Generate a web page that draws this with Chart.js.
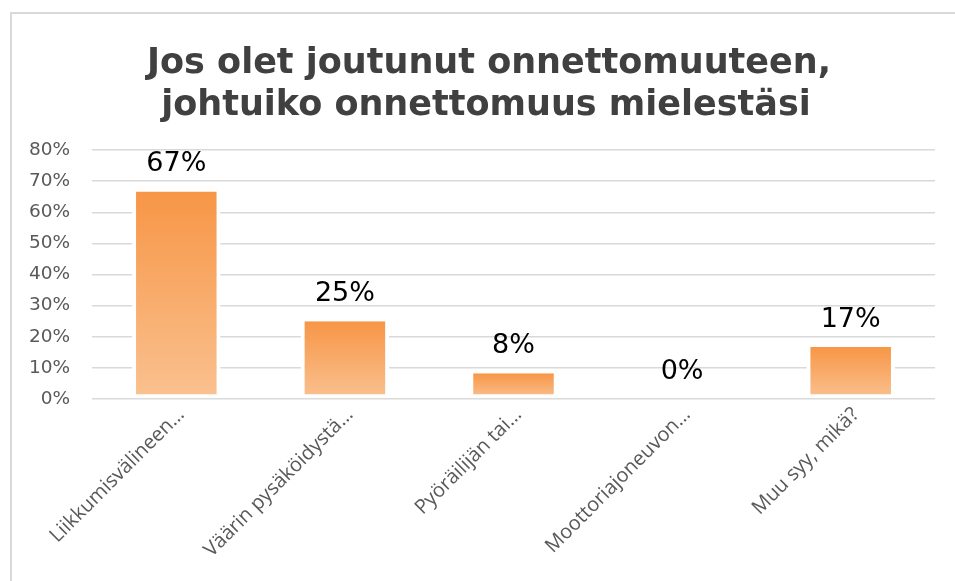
<!DOCTYPE html>
<html>
<head>
<meta charset="utf-8">
<script src="https://cdn.jsdelivr.net/npm/chart.js@4.4.1/dist/chart.umd.min.js"></script>
<style>
  body { margin: 0; background: #fff; overflow: hidden; }
  #frame { position: absolute; left: 10px; top: 12px; width: 1000px; height: 620px; border: 2px solid #d9d9d9; }
  #c { position: absolute; left: 0; top: 0; }
</style>
</head>
<body>
<div id="frame"></div>
<canvas id="c" width="955" height="581"></canvas>
<script>
// chart data
const titleLines = ['Jos olet joutunut onnettomuuteen,', 'johtuiko onnettomuus mielestäsi'];
const categories = ['Liikkumisvälineen…', 'Väärin pysäköidystä…', 'Pyöräilijän tai…', 'Moottoriajoneuvon…', 'Muu syy, mikä?'];
const values = [66.7, 25, 8.3, 0, 16.7];
const yMin = 0;
const yMax = 80;
const yStep = 10;

// gradient per bar, top dark -> bottom light
function barFill(ctx) {
  const chart = ctx.chart;
  const y = chart.scales.y;
  if (!y || ctx.parsed === undefined) return '#F79646';
  const top = y.getPixelForValue(ctx.parsed.y);
  const bottom = y.getPixelForValue(0);
  if (!isFinite(top) || !isFinite(bottom) || bottom - top < 1) return '#F79646';
  const g = chart.ctx.createLinearGradient(0, top, 0, bottom);
  g.addColorStop(0, '#F79646');
  g.addColorStop(1, '#FAC190');
  return g;
}

// value labels above bars
const valueLabels = {
  id: 'valueLabels',
  afterDatasetsDraw(chart) {
    const c = chart.ctx;
    const meta = chart.getDatasetMeta(0);
    c.save();
    c.font = '27px "DejaVu Sans"';
    c.fillStyle = '#000';
    c.textAlign = 'center';
    c.textBaseline = 'middle';
    meta.data.forEach((bar, i) => {
      c.fillText(Math.round(values[i]) + '%', bar.x, bar.y - 27);
    });
    c.restore();
  }
};

// two line title
const titleDraw = {
  id: 'titleDraw',
  afterDraw(chart) {
    const c = chart.ctx;
    c.save();
    c.font = 'bold 35px "DejaVu Sans"';
    c.fillStyle = '#404040';
    c.textAlign = 'center';
    c.textBaseline = 'alphabetic';
    c.fillText(titleLines[0], 489, 73);
    c.fillText(titleLines[1], 486, 115);
    c.restore();
  }
};

new Chart(document.getElementById('c'), {
  type: 'bar',
  data: {
    labels: categories,
    datasets: [{
      data: values,
      backgroundColor: barFill,
      borderColor: '#ffffff',
      borderWidth: 4,
      borderSkipped: 'top',
      barPercentage: 0.525,
      categoryPercentage: 1
    }]
  },
  options: {
    responsive: false,
    animation: false,
    layout: { padding: { top: 150, right: 20, left: 0, bottom: 0 } },
    plugins: {
      legend: { display: false },
      title: { display: false },
      tooltip: { enabled: false }
    },
    scales: {
      x: {
        grid: { display: false },
        border: { display: false },
        ticks: {
          color: '#595959',
          font: { family: 'Open Sans', size: 20 },
          minRotation: 45,
          maxRotation: 45,
          autoSkip: false,
          labelOffset: 5,
          padding: -4
        },
        afterFit(scale) { scale.height = 182; }
      },
      y: {
        min: yMin,
        max: yMax,
        grid: { color: '#d9d9d9', lineWidth: 1.5, drawTicks: false },
        border: { display: false },
        ticks: {
          stepSize: yStep,
          color: '#595959',
          font: { family: 'DejaVu Sans', size: 18.5 },
          padding: 22,
          callback: v => v + '%'
        },
        afterFit(scale) { scale.width = 92; }
      }
    }
  },
  plugins: [valueLabels, titleDraw]
});
</script>
</body>
</html>
